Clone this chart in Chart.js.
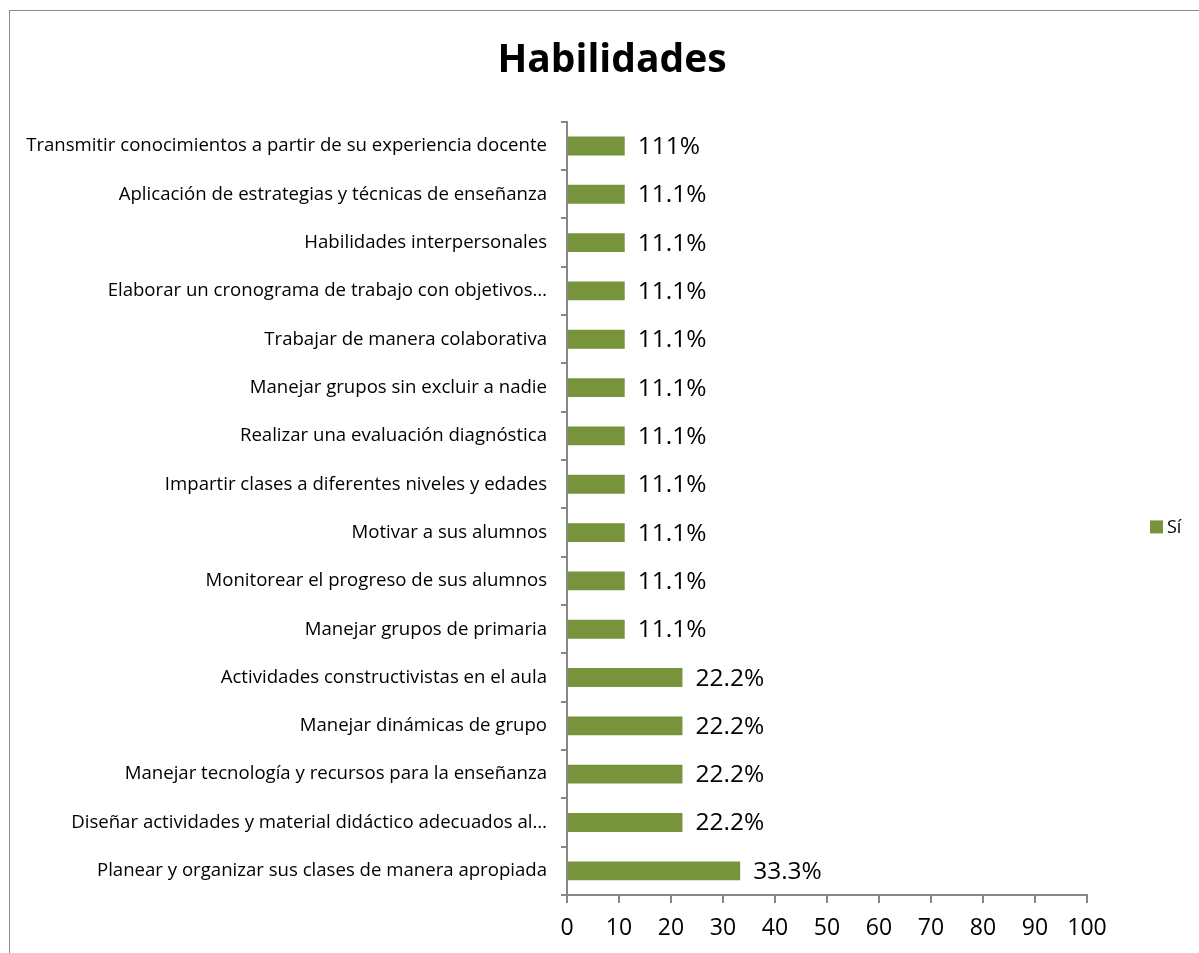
<!DOCTYPE html>
<html>
<head>
<meta charset="utf-8">
<script src="https://cdn.jsdelivr.net/npm/chart.js@4.4.1/dist/chart.umd.min.js"></script>
<style>
    body { margin: 0; overflow: hidden; background: #fff; }
    #marco {
        position: absolute; left: 9px; top: 10px; width: 1220px; height: 960px;
        border: 1px solid #8a8a8a; pointer-events: none;
    }
    #lienzo { position: absolute; left: 0; top: 0; }
</style>
</head>
<body>
<canvas id="lienzo" width="1225" height="953"></canvas>
<div id="marco"></div>
<script>
// habilidades (de arriba hacia abajo)
const categorias = [
    'Transmitir conocimientos a partir de su experiencia docente',
    'Aplicación de estrategias y técnicas de enseñanza',
    'Habilidades interpersonales',
    'Elaborar un cronograma de trabajo con objetivos…',
    'Trabajar de manera colaborativa',
    'Manejar grupos sin excluir a nadie',
    'Realizar una evaluación diagnóstica',
    'Impartir clases a diferentes niveles y edades',
    'Motivar a sus alumnos',
    'Monitorear el progreso de sus alumnos',
    'Manejar grupos de primaria',
    'Actividades constructivistas en el aula',
    'Manejar dinámicas de grupo',
    'Manejar tecnología y recursos para la enseñanza',
    'Diseñar actividades y material didáctico adecuados al…',
    'Planear y organizar sus clases de manera apropiada'
];
const valoresSi = [11.1, 11.1, 11.1, 11.1, 11.1, 11.1, 11.1, 11.1, 11.1, 11.1, 11.1, 22.2, 22.2, 22.2, 22.2, 33.3];
// etiquetas tal cual aparecen en la gráfica
const etiquetasSi = ['111%', '11.1%', '11.1%', '11.1%', '11.1%', '11.1%', '11.1%', '11.1%', '11.1%', '11.1%', '11.1%', '22.2%', '22.2%', '22.2%', '22.2%', '33.3%'];
const ejeXMin = 0;
const ejeXMax = 100;
const ejeXPaso = 10;

const verde = '#77933C';
const gris = '#868686';
const fuente = "'Open Sans', sans-serif";

// etiquetas de datos a la derecha de cada barra
const etiquetasDatos = {
    id: 'etiquetasDatos',
    afterDatasetsDraw(chart) {
        const ctx = chart.ctx;
        const meta = chart.getDatasetMeta(0);
        ctx.save();
        ctx.font = '24.5px ' + fuente;
        ctx.fillStyle = '#000';
        ctx.textAlign = 'left';
        ctx.textBaseline = 'middle';
        meta.data.forEach((barra, i) => {
            ctx.fillText(etiquetasSi[i], barra.x + 13, barra.y + 1);
        });
        ctx.restore();
    }
};

// leyenda a la derecha, en el hueco que deja el eje auxiliar
const leyenda = {
    id: 'leyenda',
    afterDraw(chart) {
        const ctx = chart.ctx;
        const area = chart.chartArea;
        const ds = chart.data.datasets[0];
        const x = area.right + 63;
        const y = (area.top + area.bottom) / 2 + 18;
        ctx.save();
        ctx.fillStyle = ds.backgroundColor;
        ctx.fillRect(x, y - 6, 13, 13);
        ctx.fillStyle = '#000';
        ctx.font = '18px ' + fuente;
        ctx.textBaseline = 'middle';
        ctx.fillText(ds.label, x + 17, y + 1);
        ctx.restore();
    }
};

const izq = 20;
const ejeY = 567;
const finEjeX = 1087;
const centroTitulo = 612;

new Chart(document.getElementById('lienzo'), {
    type: 'bar',
    data: {
        labels: categorias,
        datasets: [{
            label: 'Sí',
            data: valoresSi,
            backgroundColor: verde,
            borderWidth: 0,
            categoryPercentage: 1,
            barPercentage: 0.39
        }]
    },
    options: {
        indexAxis: 'y',
        responsive: false,
        animation: false,
        layout: { padding: { left: izq, right: 1225 - (2 * centroTitulo - izq), top: 0, bottom: 0 } },
        plugins: {
            legend: { display: false },
            tooltip: { enabled: false },
            title: {
                display: true,
                text: 'Habilidades',
                color: '#000',
                font: { family: fuente, size: 39, weight: 'bold' },
                padding: { top: 37, bottom: 38 }
            }
        },
        scales: {
            x: {
                min: ejeXMin,
                max: ejeXMax,
                afterFit(scale) { scale.height = 58; },
                ticks: {
                    stepSize: ejeXPaso,
                    color: '#000',
                    padding: 12,
                    font: { family: fuente, size: 23 }
                },
                grid: { drawOnChartArea: false, tickLength: 8, color: gris, lineWidth: 2 },
                border: { color: gris, width: 2 }
            },
            y: {
                afterFit(scale) { scale.width = ejeY - izq; },
                ticks: {
                    color: '#000',
                    padding: 14,
                    autoSkip: false,
                    font: { family: fuente, size: 18.6 }
                },
                grid: { drawOnChartArea: false, tickLength: 6, color: gris, lineWidth: 2 },
                border: { color: gris, width: 2 }
            },
            // eje auxiliar invisible: reserva el espacio de la leyenda
            yLeyenda: {
                position: 'right',
                display: true,
                afterFit(scale) { scale.width = (2 * centroTitulo - izq) - finEjeX; },
                ticks: { display: false },
                grid: { display: false, drawTicks: false },
                border: { display: false }
            }
        }
    },
    plugins: [etiquetasDatos, leyenda]
});
// fin
</script>
</body>
</html>
